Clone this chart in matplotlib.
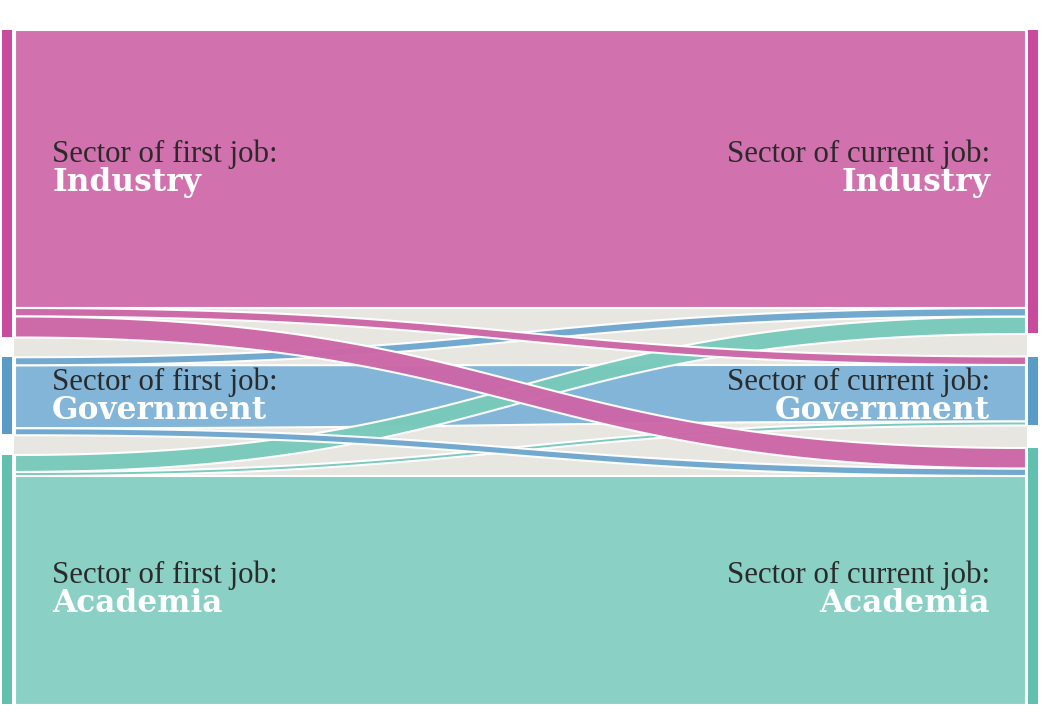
import numpy as np
import matplotlib
matplotlib.use("Agg")
import matplotlib.pyplot as plt
from matplotlib.patches import Polygon, Rectangle

########## data: link widths (share of people) for first job -> current job ##########
sectors = ["Industry", "Government", "Academia"]
# rows = sector of first job, cols = sector of current job
first_side = [[278.0, 8.5, 21.0],      # width of each link at the "first job" side
              [8.0, 63.0, 7.0],
              [17.0, 4.0, 229.0]]
current_side = [[278.0, 8.5, 20.5],    # width of each link at the "current job" side
                [8.5, 56.5, 7.5],
                [17.5, 4.0, 229.0]]

main_col = ["#d172af", "#82b5d7", "#8bd0c4"]
link_col = ["#cd67a8", "#6fa7cf", "#78c9bb"]
bar_col = ["#c84b9e", "#5b9cc7", "#62c0ae"]
grey = "#e8e6e1"

########## layout (pixel units) ##########
W, H = 1051, 714
top, bottom = 30, 705
x_left, x_right = 15, 1026

first_side = np.array(first_side)
current_side = np.array(current_side)
n = len(sectors)

# left column: stack links by source, then by target
gap_l = (bottom - top - first_side.sum()) / (n - 1)
left_pos = np.zeros((n, n))
left_node = []
y = top
for i in range(n):
    y0 = y
    for j in range(n):
        left_pos[i, j] = y
        y += first_side[i, j]
    left_node.append((y0, y))
    y += gap_l

# right column: stack links by target, then by source
gap_r = (bottom - top - current_side.sum()) / (n - 1)
right_pos = np.zeros((n, n))
right_node = []
y = top
for j in range(n):
    y0 = y
    for i in range(n):
        right_pos[i, j] = y
        y += current_side[i, j]
    right_node.append((y0, y))
    y += gap_r


def band(ya, yb, wa, wb):
    # cubic bezier ribbon from left (ya, width wa) to right (yb, width wb)
    t = np.linspace(0, 1, 200)
    xm = (x_left + x_right) / 2
    bx = (1-t)**3*x_left + 3*(1-t)**2*t*xm + 3*(1-t)*t**2*xm + t**3*x_right
    s = 3*t**2 - 2*t**3
    top_y = ya + (yb - ya)*s
    bot_y = (ya + wa) + ((yb + wb) - (ya + wa))*s
    pts = np.vstack([np.column_stack([bx, top_y]),
                     np.column_stack([bx[::-1], bot_y[::-1]])])
    return pts


fig = plt.figure(figsize=(W/100, H/100), dpi=100)
ax = fig.add_axes([0, 0, 1, 1])
ax.set_xlim(0, W)
ax.set_ylim(H, 0)
ax.axis("off")

ax.add_patch(Rectangle((14, top), 1013, bottom - top, color=grey, lw=0, zorder=0))

# big "stayed in same sector" flows first
for i in range(n):
    pts = band(left_pos[i, i], right_pos[i, i], first_side[i, i], current_side[i, i])
    ax.add_patch(Polygon(pts, closed=True, fc=main_col[i], ec="white", lw=1.5, zorder=1))

# the movers, drawn academia -> government -> industry
for i in [2, 1, 0]:
    for j in range(n):
        if i == j:
            continue
        pts = band(left_pos[i, j], right_pos[i, j], first_side[i, j], current_side[i, j])
        ax.add_patch(Polygon(pts, closed=True, fc=link_col[i], ec="white", lw=1.5,
                             alpha=0.97, zorder=2))

# node bars
for i in range(n):
    a, b = left_node[i]
    ax.add_patch(Rectangle((2, a), 10, b - a - 1, color=bar_col[i], lw=0, zorder=3))
    a, b = right_node[i]
    ax.add_patch(Rectangle((1028, a), 10, b - a - 1, color=bar_col[i], lw=0, zorder=3))

# labels
for i in range(n):
    yc = left_pos[i, i] + first_side[i, i] / 2
    ax.text(52, yc - 7, "Sector of first job:", family="Liberation Serif", fontsize=22.2,
            color="#2a2a2a", ha="left", va="baseline", zorder=4)
    ax.text(52, yc + 22, sectors[i], family="DejaVu Serif", fontweight="bold", fontsize=22.5,
            color="white", ha="left", va="baseline", zorder=4)
    ax.text(990, yc - 7, "Sector of current job:", family="Liberation Serif", fontsize=22.2,
            color="#2a2a2a", ha="right", va="baseline", zorder=4)
    ax.text(990, yc + 22, sectors[i], family="DejaVu Serif", fontweight="bold", fontsize=22.5,
            color="white", ha="right", va="baseline", zorder=4)

fig.savefig("out.png", dpi=100)
